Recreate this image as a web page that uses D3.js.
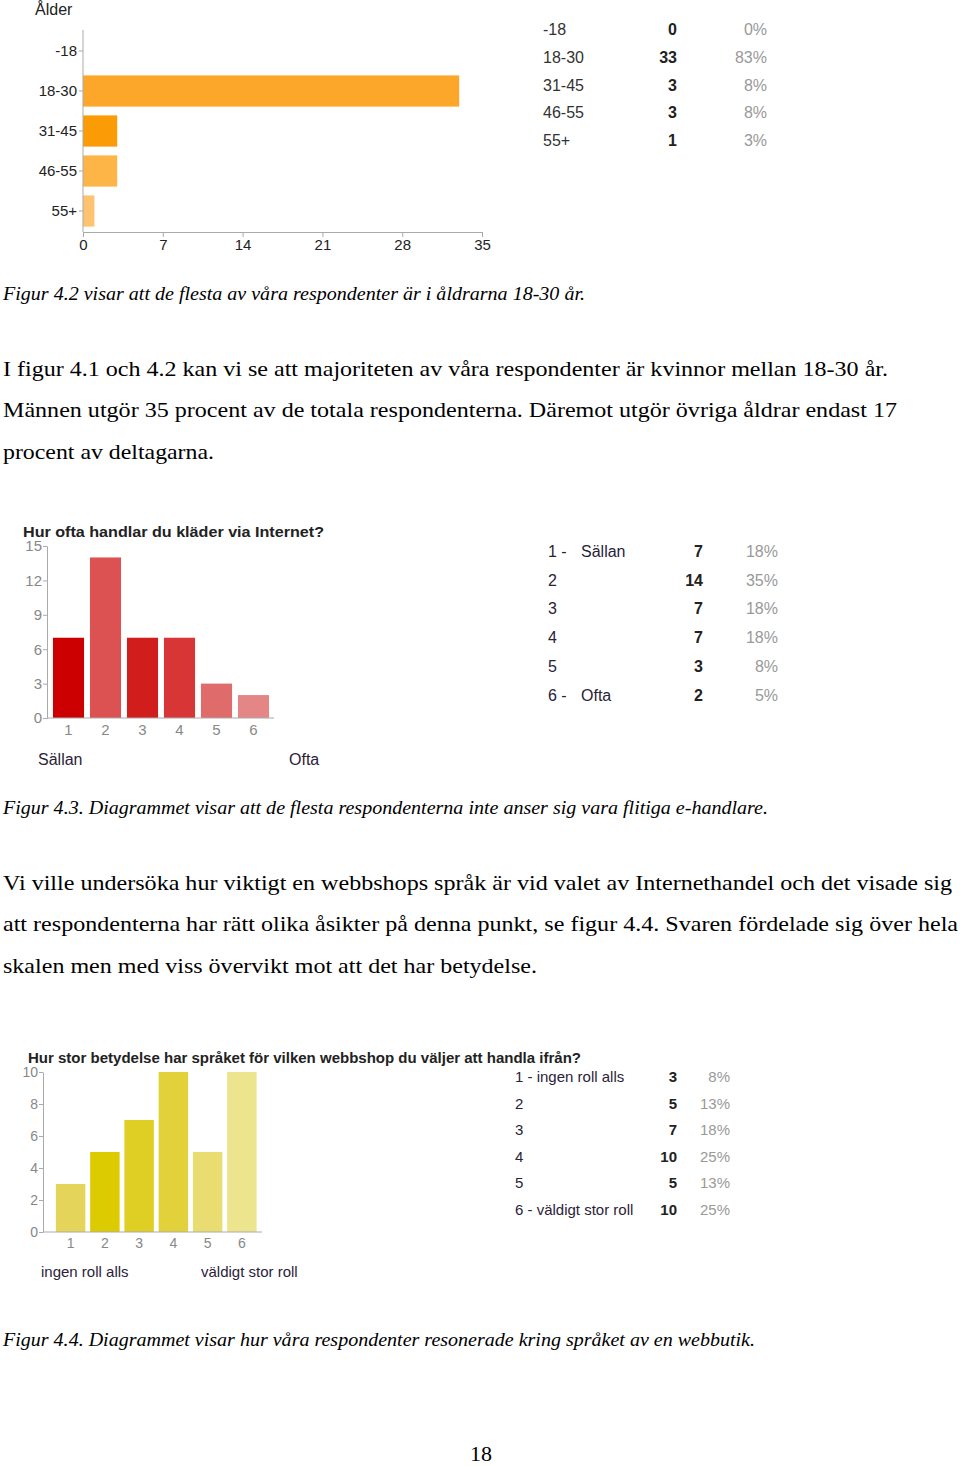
<!DOCTYPE html>
<html><head><meta charset="utf-8">
<script src="https://cdn.jsdelivr.net/npm/d3@7"></script>
<style>body{margin:0;background:#fff} svg{display:block}</style>
</head><body><svg id="c" width="960" height="1466"></svg>
<script>
// ---- data ----
const ageTitle = "Ålder";
const ageCategories = ["-18","18-30","31-45","46-55","55+"];
const ageCounts = [0,33,3,3,1];
const agePercents = ["0%","83%","8%","8%","3%"];
const ageTicks = [0,7,14,21,28,35];

const freqTitle = "Hur ofta handlar du kläder via Internet?";
const freqCategories = ["1","2","3","4","5","6"];
const freqCounts = [7,14,7,7,3,2];
const freqPercents = ["18%","35%","18%","18%","8%","5%"];
const freqTableNums = ["1 -","2","3","4","5","6 -"];
const freqTableNames = ["Sällan","","","","","Ofta"];
const freqTicks = [0,3,6,9,12,15];
const freqEnds = ["Sällan","Ofta"];

const langTitle = "Hur stor betydelse har språket för vilken webbshop du väljer att handla ifrån?";
const langCategories = ["1","2","3","4","5","6"];
const langCounts = [3,5,7,10,5,10];
const langPercents = ["8%","13%","18%","25%","13%","25%"];
const langTableLabels = ["1 - ingen roll alls","2","3","4","5","6 - väldigt stor roll"];
const langTicks = [0,2,4,6,8,10];
const langEnds = ["ingen roll alls","väldigt stor roll"];

const caption1 = "Figur 4.2 visar att de flesta av våra respondenter är i åldrarna 18-30 år.";
const para1 = ["I figur 4.1 och 4.2 kan vi se att majoriteten av våra respondenter är kvinnor mellan 18-30 år.",
  "Männen utgör 35 procent av de totala respondenterna. Däremot utgör övriga åldrar endast 17",
  "procent av deltagarna."];
const caption2 = "Figur 4.3. Diagrammet visar att de flesta respondenterna inte anser sig vara flitiga e-handlare.";
const para2 = ["Vi ville undersöka hur viktigt en webbshops språk är vid valet av Internethandel och det visade sig",
  "att respondenterna har rätt olika åsikter på denna punkt, se figur 4.4. Svaren fördelade sig över hela",
  "skalen men med viss övervikt mot att det har betydelse."];
const caption3 = "Figur 4.4. Diagrammet visar hur våra respondenter resonerade kring språket av en webbutik.";
const pageNumber = "18";

// ---- styles ----
const ageColors = ["#fca72a","#fca72a","#fb9b05","#fdb548","#fdc36f"];
const freqColors = ["#cc0000","#dc5252","#d21d1d","#d83636","#e06b6b","#e58686"];
const langColors = ["#e4d55a","#dccb00","#dfce24","#e2d13a","#e9dd72","#ede48e"];
const SANS = "'Liberation Sans', Arial, sans-serif";
const SERIF = "'Liberation Serif', 'Times New Roman', serif";

const svg = d3.select("#c");
svg.append("rect").attr("width",960).attr("height",1466).attr("fill","#fff");

function styleAxis(g, color, textColor, size) {
  g.selectAll("path.domain").attr("stroke", color);
  g.selectAll(".tick line").attr("stroke", color);
  g.selectAll(".tick text").attr("fill", textColor).attr("font-family", SANS).attr("font-size", size);
}

// ---- Chart 1: Ålder ----
{
  svg.append("text").attr("x",35).attr("y",15).attr("font-family",SANS).attr("font-size",16).attr("fill","#222").text(ageTitle);
  const x = d3.scaleLinear().domain([0,35]).range([83,482]);
  const y = d3.scaleBand().domain(ageCategories).range([31,231]).paddingInner(0.22).paddingOuter(0.11);
  svg.append("g").selectAll("rect").data(ageCategories).join("rect")
    .attr("x", x(0)).attr("y", d=>y(d)).attr("height", y.bandwidth())
    .attr("width", (d,i)=>x(ageCounts[i])-x(0)).attr("fill",(d,i)=>ageColors[i]);
  const gy = svg.append("g").attr("transform","translate(83,0)")
    .call(d3.axisLeft(y).tickSize(4).tickSizeOuter(0).tickPadding(2));
  gy.select("path.domain").attr("d","M0,30V232");
  styleAxis(gy,"#aaa","#222",15);
  const gx = svg.append("g").attr("transform","translate(0,232)")
    .call(d3.axisBottom(x).tickValues(ageTicks).tickSize(5).tickSizeOuter(0).tickPadding(2));
  styleAxis(gx,"#aaa","#222",15);
  const t = svg.append("g").attr("font-family",SANS).attr("font-size",16);
  ageCategories.forEach((c,i)=>{
    const yy = 35 + i*27.8;
    t.append("text").attr("x",543).attr("y",yy).attr("fill","#333").text(c);
    t.append("text").attr("x",677).attr("y",yy).attr("text-anchor","end").attr("font-weight","bold").attr("fill","#222").text(ageCounts[i]);
    t.append("text").attr("x",767).attr("y",yy).attr("text-anchor","end").attr("fill","#999").text(agePercents[i]);
  });
}

// ---- Chart 2: frequency ----
{
  svg.append("text").attr("x",23).attr("y",537).attr("font-family",SANS).attr("font-weight","bold")
    .attr("font-size",15).attr("fill","#222").attr("textLength",301).attr("lengthAdjust","spacingAndGlyphs").text(freqTitle);
  const y = d3.scaleLinear().domain([0,15]).range([718,546]);
  const x = d3.scaleBand().domain(freqCategories).range([50,272]).paddingInner(0.16).paddingOuter(0.08);
  svg.append("g").selectAll("rect").data(freqCategories).join("rect")
    .attr("x", d=>x(d)).attr("width", x.bandwidth())
    .attr("y",(d,i)=>y(freqCounts[i])).attr("height",(d,i)=>y(0)-y(freqCounts[i]))
    .attr("fill",(d,i)=>freqColors[i]);
  const gy = svg.append("g").attr("transform","translate(47,0)")
    .call(d3.axisLeft(y).tickValues(freqTicks).tickSize(4).tickSizeOuter(0).tickPadding(1));
  styleAxis(gy,"#aaa","#888",15);
  const gx = svg.append("g").attr("transform","translate(0,718)")
    .call(d3.axisBottom(x).tickSize(0).tickPadding(6));
  gx.select("path.domain").attr("d","M47,0H274");
  styleAxis(gx,"#aaa","#888",15);
  svg.append("text").attr("x",38).attr("y",765).attr("font-family",SANS).attr("font-size",16).attr("fill","#2a2238").text(freqEnds[0]);
  svg.append("text").attr("x",289).attr("y",765).attr("font-family",SANS).attr("font-size",16).attr("fill","#2a2238").text(freqEnds[1]);
  const t = svg.append("g").attr("font-family",SANS).attr("font-size",16);
  freqCategories.forEach((c,i)=>{
    const yy = 557 + i*28.7;
    t.append("text").attr("x",548).attr("y",yy).attr("fill","#2a2238").text(freqTableNums[i]);
    t.append("text").attr("x",581).attr("y",yy).attr("fill","#2a2238").text(freqTableNames[i]);
    t.append("text").attr("x",703).attr("y",yy).attr("text-anchor","end").attr("font-weight","bold").attr("fill","#222").text(freqCounts[i]);
    t.append("text").attr("x",778).attr("y",yy).attr("text-anchor","end").attr("fill","#999").text(freqPercents[i]);
  });
}

// ---- Chart 3: language ----
{
  svg.append("text").attr("x",28).attr("y",1063).attr("font-family",SANS).attr("font-weight","bold")
    .attr("font-size",14.5).attr("fill","#222").attr("textLength",553).attr("lengthAdjust","spacingAndGlyphs").text(langTitle);
  const y = d3.scaleLinear().domain([0,10]).range([1232,1072]);
  const x = d3.scaleBand().domain(langCategories).range([53.5,259]).paddingInner(0.14).paddingOuter(0.07);
  svg.append("g").selectAll("rect").data(langCategories).join("rect")
    .attr("x", d=>x(d)).attr("width", x.bandwidth())
    .attr("y",(d,i)=>y(langCounts[i])).attr("height",(d,i)=>y(0)-y(langCounts[i]))
    .attr("fill",(d,i)=>langColors[i]);
  const gy = svg.append("g").attr("transform","translate(43,0)")
    .call(d3.axisLeft(y).tickValues(langTicks).tickSize(4).tickSizeOuter(0).tickPadding(1));
  styleAxis(gy,"#aaa","#888",14);
  const gx = svg.append("g").attr("transform","translate(0,1232)")
    .call(d3.axisBottom(x).tickSize(0).tickPadding(6));
  gx.select("path.domain").attr("d","M43,0H262");
  styleAxis(gx,"#aaa","#888",14);
  svg.append("text").attr("x",41).attr("y",1277).attr("font-family",SANS).attr("font-size",15).attr("fill","#2a2238").text(langEnds[0]);
  svg.append("text").attr("x",201).attr("y",1277).attr("font-family",SANS).attr("font-size",15).attr("fill","#2a2238").text(langEnds[1]);
  const t = svg.append("g").attr("font-family",SANS).attr("font-size",15);
  langCategories.forEach((c,i)=>{
    const yy = 1082 + i*26.6;
    t.append("text").attr("x",515).attr("y",yy).attr("fill","#2a2238").text(langTableLabels[i]);
    t.append("text").attr("x",677).attr("y",yy).attr("text-anchor","end").attr("font-weight","bold").attr("fill","#222").text(langCounts[i]);
    t.append("text").attr("x",730).attr("y",yy).attr("text-anchor","end").attr("fill","#999").text(langPercents[i]);
  });
}

// ---- Body text ----
function line(txt, y, len, italic, size) {
  svg.append("text").attr("x",3).attr("y",y).attr("font-family",SERIF)
    .attr("font-size",size).attr("font-style",italic?"italic":"normal").attr("fill","#000")
    .attr("textLength",len).attr("lengthAdjust","spacingAndGlyphs").text(txt);
}
line(caption1, 300, 582, true, 19);
[[376,885],[417,894],[459,211]].forEach((p,i)=>line(para1[i],p[0],p[1],false,22));
line(caption2, 814, 765, true, 19);
[[890,949],[931,955],[973,534]].forEach((p,i)=>line(para2[i],p[0],p[1],false,22));
line(caption3, 1346, 752, true, 19);
svg.append("text").attr("x",481).attr("y",1461).attr("text-anchor","middle").attr("font-family",SERIF)
  .attr("font-size",22).attr("fill","#000").text(pageNumber);
</script></body></html>
